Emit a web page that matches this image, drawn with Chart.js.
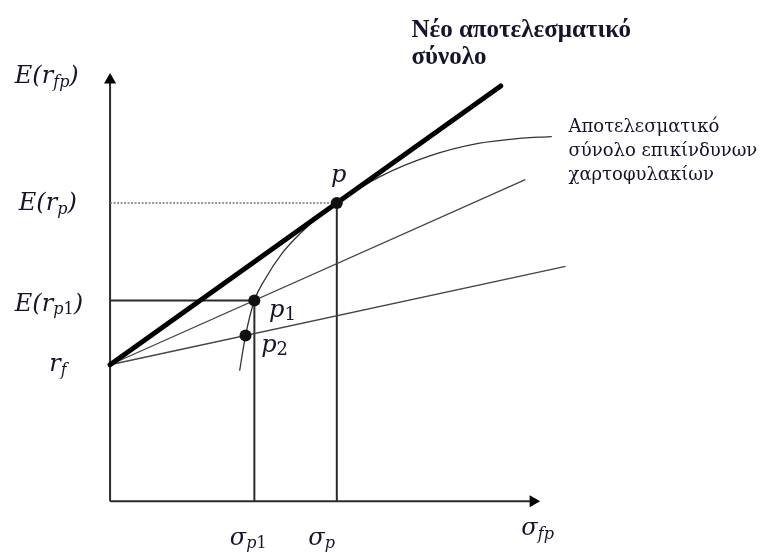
<!DOCTYPE html>
<html>
<head>
<meta charset="utf-8">
<script src="https://cdn.jsdelivr.net/npm/chart.js@4"></script>
<style>
  html, body { margin: 0; padding: 0; background: #fff; }
  #wrap { width: 761px; height: 556px; position: relative; }
</style>
</head>
<body>
<div id="wrap"><canvas id="chart"></canvas></div>
<script>
// risk-free rate and axis extents (abstract units)
const rf = 14.0;
const axisMaxX = 43.6;
const axisMaxY = 43.7;

// portfolios p, p1, p2
const pointNames = ['p', 'p1', 'p2'];
const pointX = [23.1, 14.7, 13.8];
const pointY = [30.6, 20.6, 17.0];

// ends of the lines drawn from rf through each portfolio
const lineEndX = [39.8, 42.3, 46.4];
const lineEndY = [42.6, 33.0, 24.1];

// efficient frontier of risky portfolios
const frontierX = [13.2, 13.8, 14.7, 15.8, 17.5, 19.5, 21.5, 23.1, 27.5, 32.5, 37.5, 41.5, 45.0];
const frontierY = [13.4, 17.0, 20.6, 22.8, 25.4, 27.6, 29.4, 30.6, 33.3, 35.4, 36.7, 37.2, 37.4];

const ink = '#2b2b2b';
const textInk = '#14142a';
const pts = (xs, ys) => xs.map((x, i) => ({ x: x, y: ys[i] }));

const datasets = [
  // portfolio dots
  { data: pts(pointX, pointY), pointRadius: 6, pointBackgroundColor: '#111', pointBorderWidth: 0, showLine: false, order: 0 },
  // new efficient set (CML)
  { data: [{ x: 0, y: rf }, { x: lineEndX[0], y: lineEndY[0] }], borderColor: '#000', borderWidth: 5, borderCapStyle: 'round', showLine: true, pointRadius: 0, order: 1 },
  { data: [{ x: 0, y: rf }, { x: lineEndX[1], y: lineEndY[1] }], borderColor: '#444', borderWidth: 1.3, showLine: true, pointRadius: 0, order: 3 },
  { data: [{ x: 0, y: rf }, { x: lineEndX[2], y: lineEndY[2] }], borderColor: '#444', borderWidth: 1.3, showLine: true, pointRadius: 0, order: 3 },
  // frontier
  { data: pts(frontierX, frontierY), borderColor: '#333', borderWidth: 1.3, showLine: true, pointRadius: 0, cubicInterpolationMode: 'monotone', order: 2 },
  // guide lines
  { data: [{ x: 0, y: pointY[0] }, { x: pointX[0], y: pointY[0] }], borderColor: '#777', borderWidth: 1.6, borderDash: [2, 1.5], showLine: true, pointRadius: 0, order: 4 },
  { data: [{ x: 0, y: pointY[1] }, { x: pointX[1], y: pointY[1] }], borderColor: ink, borderWidth: 2, showLine: true, pointRadius: 0, order: 4 },
  { data: [{ x: pointX[1], y: 0 }, { x: pointX[1], y: pointY[1] }], borderColor: ink, borderWidth: 2, showLine: true, pointRadius: 0, order: 4 },
  { data: [{ x: pointX[0], y: 0 }, { x: pointX[0], y: pointY[0] }], borderColor: ink, borderWidth: 2, showLine: true, pointRadius: 0, order: 4 },
  // axes with arrowheads
  { data: [{ x: 0, y: 0 }, { x: 0, y: axisMaxY - 0.5 }], borderColor: ink, borderWidth: 2, showLine: true,
    pointRadius: [0, 7], pointStyle: 'triangle', rotation: 0, pointBackgroundColor: '#000', pointBorderWidth: 0, order: 5 },
  { data: [{ x: 0, y: 0 }, { x: axisMaxX - 0.5, y: 0 }], borderColor: ink, borderWidth: 2, showLine: true,
    pointRadius: [0, 7], pointStyle: 'triangle', rotation: 90, pointBackgroundColor: '#000', pointBorderWidth: 0, order: 5 },
];

// text labels: parts are [text, 'n' normal | 's' subscript]
const mathLabels = [
  { x: -9.7, y: 43.5, parts: [['E(', 'n'], ['r', 'n'], ['fp', 's'], [')', 'n']] },
  { x: -9.3, y: 30.5, parts: [['E(', 'n'], ['r', 'n'], ['p', 's'], [')', 'n']] },
  { x: -9.7, y: 20.2, parts: [['E(', 'n'], ['r', 'n'], ['p', 's'], ['1', 'd'], [')', 'n']] },
  { x: -6.2, y: 14.0, parts: [['r', 'n'], ['f', 's']] },
  { x: 12.2, y: -3.8, parts: [['σ', 'n'], ['p', 's'], ['1', 'd']] },
  { x: 20.2, y: -3.8, parts: [['σ', 'n'], ['p', 's']] },
  { x: 41.9, y: -2.8, parts: [['σ', 'n'], ['fp', 's']] },
  { x: 22.5, y: 33.4, parts: [['p', 'n']] },
  { x: 16.2, y: 19.5, parts: [['p', 'n'], ['1', 'D']] },
  { x: 15.4, y: 15.9, parts: [['p', 'n'], ['2', 'D']] },
];
const titleLines = ['Νέο αποτελεσματικό', 'σύνολο'];
const frontierLines = ['Αποτελεσματικό', 'σύνολο επικίνδυνων', 'χαρτοφυλακίων'];

const fonts = {
  n: 'italic 24px "DejaVu Serif"',
  s: 'italic 16px "DejaVu Serif"',
  d: '16px "DejaVu Serif"',
  D: '18px "DejaVu Serif"',
};
const drops = { n: 0, s: 6, d: 6, D: 4 };

const labelPlugin = {
  id: 'labels',
  afterDatasetsDraw(chart) {
    const { ctx, scales } = chart;
    const sx = v => scales.x.getPixelForValue(v);
    const sy = v => scales.y.getPixelForValue(v);
    ctx.save();
    ctx.fillStyle = textInk;
    ctx.textBaseline = 'middle';
    ctx.textAlign = 'left';
    mathLabels.forEach(l => {
      let x = sx(l.x);
      const y = sy(l.y);
      l.parts.forEach(([t, k]) => {
        ctx.font = fonts[k];
        ctx.fillText(t, x, y + drops[k]);
        x += ctx.measureText(t).width;
      });
    });
    ctx.font = 'bold 25px "Liberation Serif"';
    titleLines.forEach((t, i) => ctx.fillText(t, sx(30.7), sy(48.3 - i * 2.8)));
    ctx.font = '18px "DejaVu Serif"';
    frontierLines.forEach((t, i) => ctx.fillText(t, sx(46.7), sy(38.4 - i * 2.5)));
    ctx.restore();
  }
};

new Chart(document.getElementById('chart'), {
  type: 'scatter',
  data: { datasets: datasets },
  options: {
    responsive: true,
    maintainAspectRatio: false,
    animation: false,
    layout: { padding: 0 },
    plugins: { legend: { display: false }, tooltip: { enabled: false } },
    elements: { line: { fill: false } },
    scales: {
      x: { type: 'linear', display: false, min: -10.5, max: 65.6 },
      y: { type: 'linear', display: false, min: -4.9, max: 50.7 },
    },
  },
  plugins: [labelPlugin],
});
</script>
</body>
</html>
